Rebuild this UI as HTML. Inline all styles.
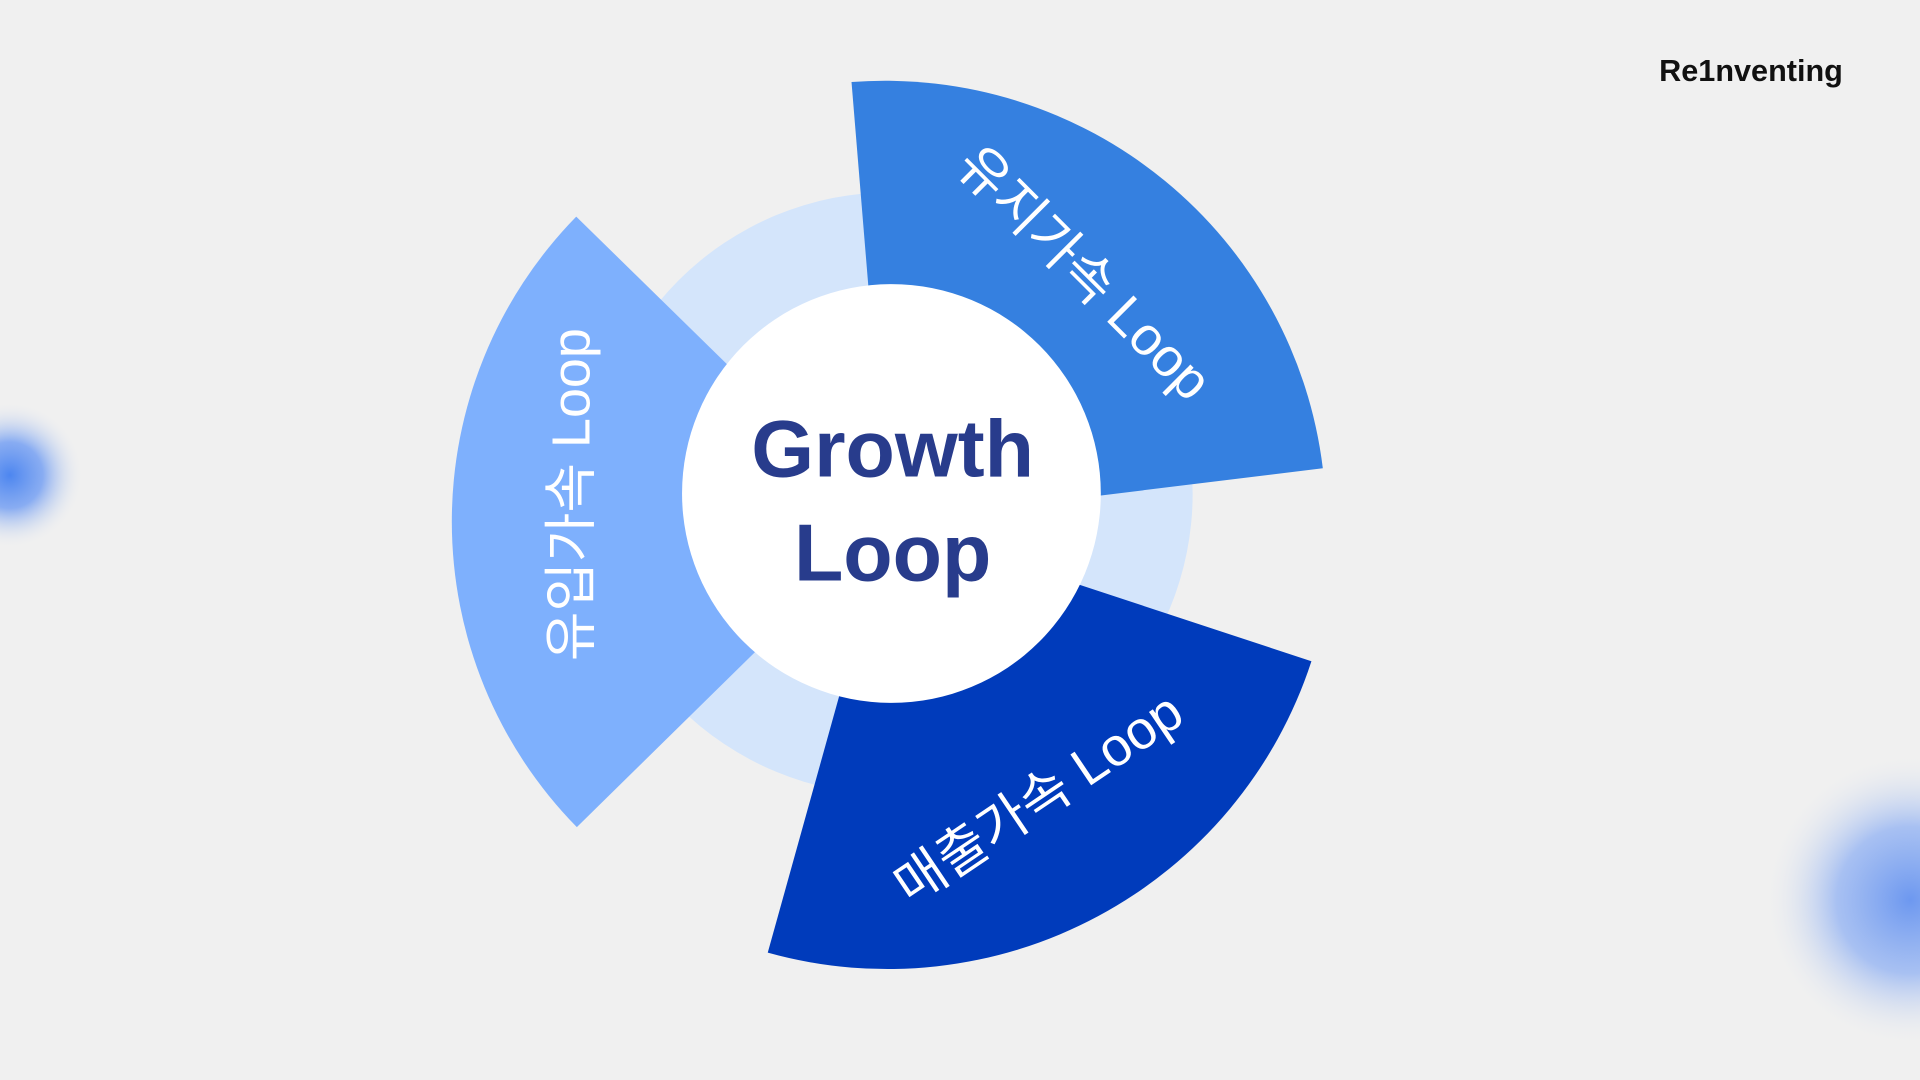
<!DOCTYPE html>
<html><head><meta charset="utf-8"><style>
html,body{margin:0;padding:0;background:#f0f0f0;}
svg{display:block}
</style></head><body>
<svg width="1920" height="1080" viewBox="0 0 1568 882" xmlns="http://www.w3.org/2000/svg">
<defs>
<radialGradient id="b1"><stop offset="0" stop-color="#4d86f0"/><stop offset="0.45" stop-color="#6e9bf2" stop-opacity="0.8"/><stop offset="1" stop-color="#f0f0f0" stop-opacity="0"/></radialGradient>
<radialGradient id="b2"><stop offset="0" stop-color="#6d98f0"/><stop offset="0.5" stop-color="#9bb8f2" stop-opacity="0.85"/><stop offset="1" stop-color="#f0f0f0" stop-opacity="0"/></radialGradient>
</defs>
<rect width="1568" height="882" fill="#f0f0f0"/>
<circle cx="8" cy="388" r="60" fill="url(#b1)"/>
<circle cx="1560" cy="735" r="120" fill="url(#b2)"/>
<text x="1430" y="66" text-anchor="middle" font-family="Liberation Sans, sans-serif" font-weight="bold" font-size="25" fill="#111">Re1nventing</text>
<circle cx="728" cy="403" r="246" fill="#d4e5fb"/>
<path d="M725 426 L695.4 67 A360 360 0 0 1 1080.3 382.4 Z" fill="#3580e0"/>
<path d="M725 426 L1071 540 A364 364 0 0 1 627 778 Z" fill="#003bbb"/>
<path d="M725 426 L471.1 675.5 A356 356 0 0 1 470.6 176.9 Z" fill="#7eb0fd"/>
<circle cx="728" cy="403" r="171" fill="#ffffff"/>
<text x="729" y="389" text-anchor="middle" font-family="Liberation Sans, sans-serif" font-weight="bold" font-size="66" fill="#283c8c">Growth</text>
<text x="729" y="474" text-anchor="middle" font-family="Liberation Sans, sans-serif" font-weight="bold" font-size="66" fill="#283c8c">Loop</text>
<text transform="translate(883,225) rotate(45)" text-anchor="middle" dominant-baseline="middle" font-family="Liberation Sans, 'Noto Sans CJK KR', sans-serif" font-size="44" fill="#fff">유지가속 Loop</text>
<text transform="translate(850,655) rotate(-34)" text-anchor="middle" dominant-baseline="middle" font-family="Liberation Sans, 'Noto Sans CJK KR', sans-serif" font-size="44" fill="#fff">매출가속 Loop</text>
<text transform="translate(470,404) rotate(-90)" text-anchor="middle" dominant-baseline="middle" font-family="Liberation Sans, 'Noto Sans CJK KR', sans-serif" font-size="44" fill="#fff">유입가속 Loop</text>
</svg>
</body></html>
